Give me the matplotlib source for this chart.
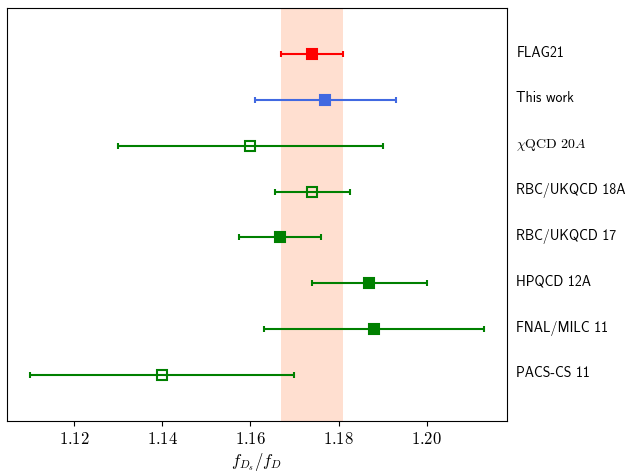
import matplotlib
matplotlib.use('Agg')
import matplotlib.pyplot as plt
from matplotlib.ticker import FuncFormatter
from matplotlib.transforms import ScaledTranslation

plt.rcParams['mathtext.fontset'] = 'cm'

# f_Ds/f_D results, top to bottom
labels = ['FLAG21', 'This work', r'$\chi\mathrm{QCD}\ 20A$', 'RBC/UKQCD 18A',
          'RBC/UKQCD 17', 'HPQCD 12A', 'FNAL/MILC 11', 'PACS-CS 11']
values = [1.174, 1.177, 1.160, 1.174, 1.1667, 1.187, 1.188, 1.140]
errors = [0.007, 0.016, 0.030, 0.0085, 0.0093, 0.013, 0.025, 0.030]
colors = ['red', 'royalblue', 'green', 'green', 'green', 'green', 'green', 'green']
filled = [True, True, False, False, True, True, True, False]

n = len(labels)
ypos = list(range(n - 1, -1, -1))

fig = plt.figure(figsize=(6.28, 4.74), dpi=100)
ax = fig.add_axes([0.0116, 0.1124, 0.7953, 0.8701])

# FLAG average as a band
ax.axvspan(values[0] - errors[0], values[0] + errors[0], color='#FFDFD0', lw=0, zorder=0)

for v, e, y, c, f in zip(values, errors, ypos, colors, filled):
    ax.errorbar(v, y, xerr=e, fmt='s', color=c, ms=7, mec=c,
                mfc=c if f else 'none', mew=1.5, elinewidth=1.5,
                capsize=2.5, capthick=1.2, zorder=3)

ax.set_ylim(-1, n)
ax.yaxis.tick_right()
ax.set_yticks(ypos)
ax.set_yticklabels(labels, fontfamily='cmss10', fontsize=10)
ax.tick_params(axis='y', length=0, pad=7)
shift = ScaledTranslation(0, 3 / 100, fig.dpi_scale_trans)
for t in ax.get_yticklabels():
    t.set_transform(t.get_transform() + shift)
ax.set_xticks([1.12, 1.14, 1.16, 1.18, 1.20])
ax.xaxis.set_major_formatter(FuncFormatter(lambda x, p: '$%.2f$' % x))
ax.tick_params(axis='x', labelsize=12)
ax.set_xlabel(r'$f_{D_s}/f_D$', fontsize=12, labelpad=2)

fig.savefig('out.png', dpi=100)
